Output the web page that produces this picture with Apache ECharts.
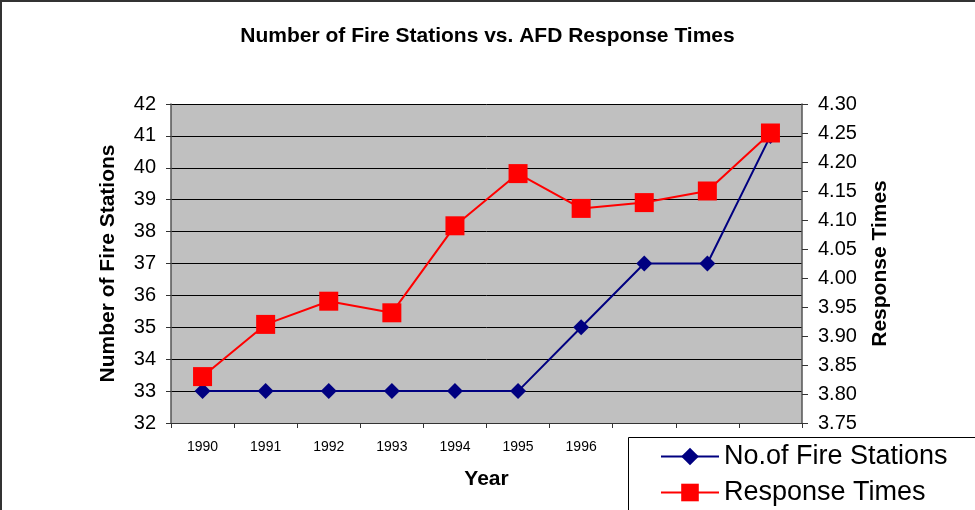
<!DOCTYPE html>
<html>
<head>
<meta charset="utf-8">
<script src="https://cdn.jsdelivr.net/npm/echarts@6/dist/echarts.min.js"></script>
<style>
  html, body { margin: 0; padding: 0; background: #fff; }
  #chart { width: 975px; height: 510px; }
</style>
</head>
<body>
<div id="chart"></div>
<script>
// data
const years = ['1990', '1991', '1992', '1993', '1994', '1995', '1996', '1997', '1998', '1999'];
const fireStations = [33, 33, 33, 33, 33, 33, 35, 37, 37, 41];
const responseTimes = [3.83, 3.92, 3.96, 3.94, 4.09, 4.18, 4.12, 4.13, 4.15, 4.25];

const font = 'Liberation Sans, Arial, sans-serif';

const chart = echarts.init(document.getElementById('chart'));

// one legend per entry so the box at the bottom edge doesn't make it wrap
const legendBase = {
  orient: 'vertical',
  left: 660,
  z: 60,
  padding: 0,
  itemWidth: 58,
  itemHeight: 22,
  textStyle: { fontFamily: font, fontSize: 27, color: '#000' }
};

chart.setOption({
  animation: false,
  backgroundColor: '#fff',
  textStyle: { fontFamily: font },
  title: {
    text: 'Number of Fire Stations vs. AFD Response Times',
    left: 'center',
    top: 21,
    textStyle: { fontFamily: font, fontSize: 21, fontWeight: 'bold', color: '#000' }
  },
  grid: {
    left: 171,
    right: 173,
    top: 104,
    bottom: 87,
    show: true,
    backgroundColor: '#c0c0c0',
    borderWidth: 0
  },
  legend: [
    Object.assign({}, legendBase, { top: 443, data: ['No.of Fire Stations'] }),
    Object.assign({}, legendBase, { top: 479, data: ['Response Times'] })
  ],
  xAxis: {
    type: 'category',
    data: years,
    boundaryGap: true,
    name: 'Year',
    nameLocation: 'middle',
    nameGap: 46,
    nameTextStyle: { fontFamily: font, fontSize: 21, fontWeight: 'bold', color: '#000' },
    axisLine: { lineStyle: { color: '#333', width: 1 } },
    axisTick: { show: true, length: 5, lineStyle: { color: '#333' } },
    axisLabel: { fontFamily: font, fontSize: 14, color: '#000', margin: 17 },
    splitLine: { show: false }
  },
  yAxis: [
    {
      type: 'value',
      min: 32,
      max: 42,
      interval: 1,
      name: 'Number of Fire Stations',
      nameLocation: 'middle',
      nameGap: 52,
      nameTextStyle: { fontFamily: font, fontSize: 21, fontWeight: 'bold', color: '#000' },
      axisLine: { show: true, lineStyle: { color: '#555', width: 1.5 } },
      axisTick: { show: true, length: 5, lineStyle: { color: '#333' } },
      axisLabel: { fontFamily: font, fontSize: 20, color: '#000', margin: 15 },
      splitLine: { show: true, lineStyle: { color: '#000', width: 1 } }
    },
    {
      type: 'value',
      min: 3.75,
      max: 4.30,
      interval: 0.05,
      position: 'right',
      name: 'Response Times',
      nameLocation: 'middle',
      nameGap: 68,
      nameTextStyle: { fontFamily: font, fontSize: 21, fontWeight: 'bold', color: '#000' },
      axisLine: { show: true, lineStyle: { color: '#555', width: 1.5 } },
      axisTick: { show: true, length: 6, lineStyle: { color: '#333' } },
      axisLabel: {
        fontFamily: font, fontSize: 20, color: '#000', margin: 16,
        formatter: v => v.toFixed(2)
      },
      splitLine: { show: false }
    }
  ],
  series: [
    {
      name: 'No.of Fire Stations',
      type: 'line',
      yAxisIndex: 0,
      data: fireStations,
      symbol: 'diamond',
      symbolSize: 16,
      lineStyle: { color: '#000080', width: 2 },
      itemStyle: { color: '#000080' },
      z: 3
    },
    {
      name: 'Response Times',
      type: 'line',
      yAxisIndex: 1,
      data: responseTimes,
      symbol: 'rect',
      symbolSize: 19,
      lineStyle: { color: '#ff0000', width: 2 },
      itemStyle: { color: '#ff0000' },
      z: 4
    }
  ],
  graphic: [
    {
      type: 'rect',
      z: 0,
      silent: true,
      shape: { x: 1, y: 1, width: 1200, height: 1200 },
      style: { fill: null, stroke: '#333', lineWidth: 2 }
    },
    {
      type: 'rect',
      z: 50,
      silent: true,
      shape: { x: 628.5, y: 437.5, width: 400, height: 100 },
      style: { fill: '#fff', stroke: '#000', lineWidth: 1 }
    }
  ]
});
</script>
</body>
</html>
